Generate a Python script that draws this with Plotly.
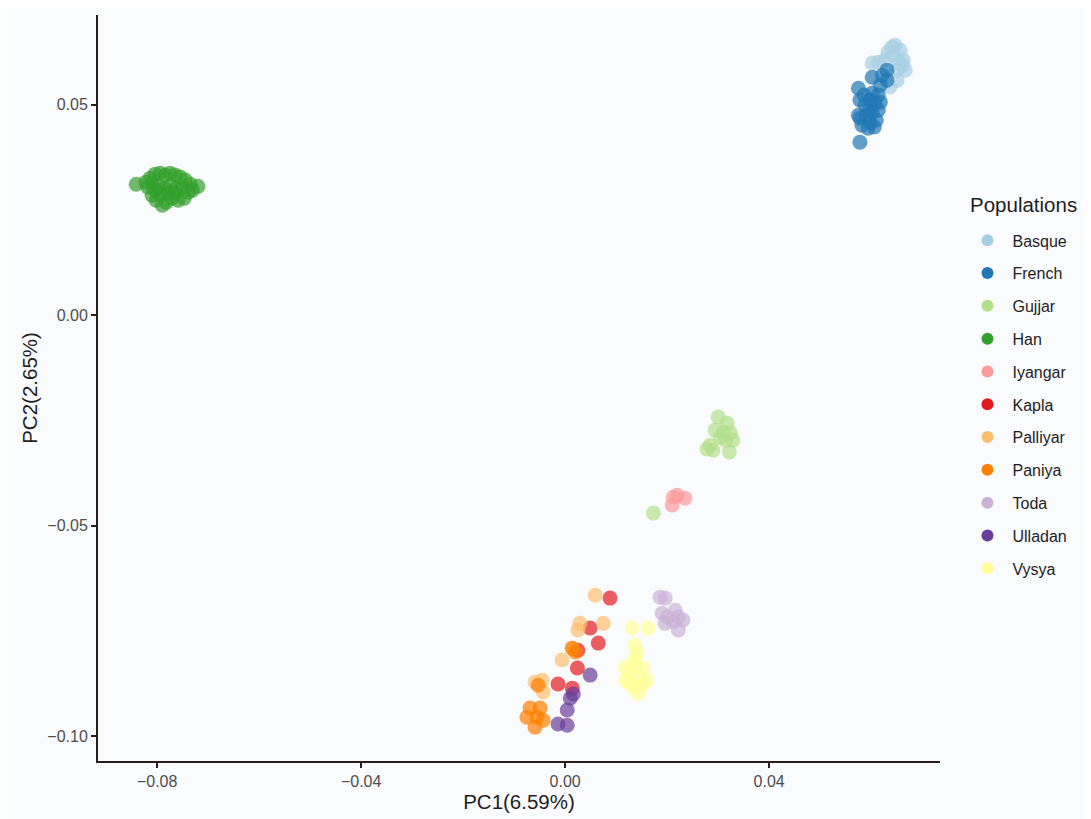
import plotly.graph_objects as go

populations = ["Basque", "French", "Gujjar", "Han", "Iyangar", "Kapla",
               "Palliyar", "Paniya", "Toda", "Ulladan", "Vysya"]
colors = ["#A6CEE3", "#1F78B4", "#B2DF8A", "#33A02C", "#FB9A99", "#E31A1C",
          "#FDBF6F", "#FF7F00", "#CAB2D6", "#6A3D9A", "#FFFF99"]

basque_pc1 = [0.0641, 0.0657, 0.0663, 0.0667, 0.0651, 0.0627, 0.0602, 0.0614, 0.0651, 0.0637, 0.0661, 0.0643, 0.0653, 0.0633, 0.0647]
basque_pc2 = [0.0637, 0.0629, 0.0606, 0.0582, 0.0582, 0.0606, 0.0599, 0.0601, 0.0558, 0.0542, 0.0594, 0.0618, 0.0601, 0.0625, 0.0641]

french_pc1 = [0.0631, 0.0602, 0.0622, 0.0575, 0.0618, 0.0631, 0.0602, 0.0578, 0.0578, 0.0588, 0.0598, 0.0608, 0.0614, 0.0602, 0.0590, 0.0578, 0.0598, 0.0610, 0.0594, 0.0606, 0.0582, 0.0618, 0.0575, 0.0614, 0.0586, 0.0598]
french_pc2 = [0.0582, 0.0565, 0.0570, 0.0539, 0.0546, 0.0558, 0.0527, 0.0411, 0.0511, 0.0499, 0.0511, 0.0504, 0.0487, 0.0482, 0.0475, 0.0468, 0.0458, 0.0463, 0.0444, 0.0447, 0.0451, 0.0506, 0.0475, 0.0523, 0.0523, 0.0492]

gujjar_pc1 = [0.0300, 0.0318, 0.0294, 0.0310, 0.0324, 0.0329, 0.0284, 0.0278, 0.0290, 0.0322, 0.0304, 0.0314, 0.0173]
gujjar_pc2 = [-0.0242, -0.0257, -0.0273, -0.0278, -0.0280, -0.0297, -0.0309, -0.0318, -0.0321, -0.0325, -0.0290, -0.0297, -0.0470]

han_pc1 = [-0.0841, -0.0720, -0.0818, -0.0814, -0.0804, -0.0794, -0.0784, -0.0775, -0.0765, -0.0755, -0.0745, -0.0735, -0.0739, -0.0747, -0.0759, -0.0771, -0.0782, -0.0790, -0.0802, -0.0810, -0.0810, -0.0798, -0.0786, -0.0775, -0.0763, -0.0751, -0.0794, -0.0778, -0.0765, -0.0822, -0.0731, -0.0804]
han_pc2 = [0.0311, 0.0306, 0.0304, 0.0325, 0.0335, 0.0337, 0.0333, 0.0337, 0.0333, 0.0328, 0.0321, 0.0311, 0.0292, 0.0278, 0.0273, 0.0278, 0.0268, 0.0261, 0.0273, 0.0285, 0.0314, 0.0306, 0.0302, 0.0306, 0.0302, 0.0304, 0.0287, 0.0290, 0.0290, 0.0316, 0.0297, 0.0297]

iyangar_pc1 = [0.0212, 0.0235, 0.0210, 0.0220]
iyangar_pc2 = [-0.0432, -0.0435, -0.0451, -0.0428]

kapla_pc1 = [0.0088, 0.0049, 0.0065, 0.0025, 0.0024, -0.0014, 0.0014]
kapla_pc2 = [-0.0672, -0.0743, -0.0779, -0.0796, -0.0838, -0.0876, -0.0886]

palliyar_pc1 = [0.0059, 0.0075, 0.0029, 0.0025, 0.0014, -0.0006, -0.0045, -0.0043, -0.0059]
palliyar_pc2 = [-0.0665, -0.0732, -0.0732, -0.0748, -0.0791, -0.0819, -0.0867, -0.0895, -0.0872]

paniya_pc1 = [0.0014, 0.0020, -0.0053, -0.0069, -0.0049, -0.0075, -0.0055, -0.0043, -0.0059]
paniya_pc2 = [-0.0791, -0.0800, -0.0879, -0.0933, -0.0933, -0.0955, -0.0955, -0.0962, -0.0979]

toda_pc1 = [0.0186, 0.0196, 0.0190, 0.0200, 0.0196, 0.0216, 0.0222, 0.0231, 0.0222, 0.0212]
toda_pc2 = [-0.0670, -0.0672, -0.0708, -0.0717, -0.0732, -0.0701, -0.0717, -0.0724, -0.0748, -0.0729]

ulladan_pc1 = [0.0049, 0.0016, 0.0010, 0.0004, -0.0014, 0.0004]
ulladan_pc2 = [-0.0855, -0.0900, -0.0910, -0.0938, -0.0971, -0.0974]

vysya_pc1 = [0.0131, 0.0163, 0.0137, 0.0141, 0.0118, 0.0153, 0.0127, 0.0143, 0.0118, 0.0161, 0.0133, 0.0143, 0.0127, 0.0151, 0.0139, 0.0135]
vysya_pc2 = [-0.0743, -0.0743, -0.0784, -0.0803, -0.0836, -0.0838, -0.0850, -0.0860, -0.0867, -0.0867, -0.0884, -0.0898, -0.0874, -0.0879, -0.0831, -0.0819]

pc1 = [basque_pc1, french_pc1, gujjar_pc1, han_pc1, iyangar_pc1, kapla_pc1,
       palliyar_pc1, paniya_pc1, toda_pc1, ulladan_pc1, vysya_pc1]
pc2 = [basque_pc2, french_pc2, gujjar_pc2, han_pc2, iyangar_pc2, kapla_pc2,
       palliyar_pc2, paniya_pc2, toda_pc2, ulladan_pc2, vysya_pc2]

x_ticks = [-0.08, -0.04, 0.00, 0.04]
y_ticks = [-0.10, -0.05, 0.00, 0.05]

FONT = "Liberation Sans, Arial, sans-serif"
BG = "#fafbfd"
AX = "#2b1d19"
TXT = "#1e1e1e"

fig = go.Figure()
for name, col, xs, ys in zip(populations, colors, pc1, pc2):
    fig.add_trace(go.Scatter(x=xs, y=ys, mode="markers", name=name,
                             marker=dict(color=col, size=15, opacity=0.7, line=dict(width=0)),
                             showlegend=False, hoverinfo="x+y+name"))
for name, col in zip(populations, colors):
    fig.add_trace(go.Scatter(x=[None], y=[None], mode="markers", name=name,
                             legendgroup=name,
                             marker=dict(color=col, size=15, line=dict(width=0)),
                             showlegend=True))

fig.update_layout(
    width=1091, height=819,
    margin=dict(l=90, r=159, t=7, b=66),
    paper_bgcolor=BG, plot_bgcolor=BG,
    font=dict(family=FONT, color=TXT),
    legend=dict(
        font=dict(size=16, color=TXT),
        x=1.0267, xanchor="left", y=0.7207, yanchor="top",
        bgcolor="rgba(0,0,0,0)", tracegroupgap=9, itemsizing="constant",
        itemwidth=40,
    ),
    annotations=[dict(text="Populations", x=1.0333, y=0.7466, xref="paper", yref="paper",
                      xanchor="left", yanchor="middle", showarrow=False,
                      font=dict(size=20.5, color=TXT))],
    xaxis=dict(
        range=[-0.0916, 0.0735], tickvals=x_ticks, tickformat=".2f",
        showgrid=False, zeroline=False, showline=True, linecolor=AX, linewidth=2,
        ticks="outside", ticklen=5, tickwidth=1.5, tickcolor=AX,
        tickfont=dict(size=16, color="#4d4d4d"),
        title=dict(text="PC1(6.59%)", font=dict(size=20.5, color=TXT), standoff=4),
    ),
    yaxis=dict(
        range=[-0.1059, 0.0713], tickvals=y_ticks, tickformat=".2f",
        showgrid=False, zeroline=False, showline=True, linecolor=AX, linewidth=2,
        ticks="outside", ticklen=5, tickwidth=1.5, tickcolor=AX,
        tickfont=dict(size=16, color="#4d4d4d"),
        title=dict(text="PC2(2.65%)", font=dict(size=20.5, color=TXT), standoff=4),
    ),
)

fig.write_html("out.html")
